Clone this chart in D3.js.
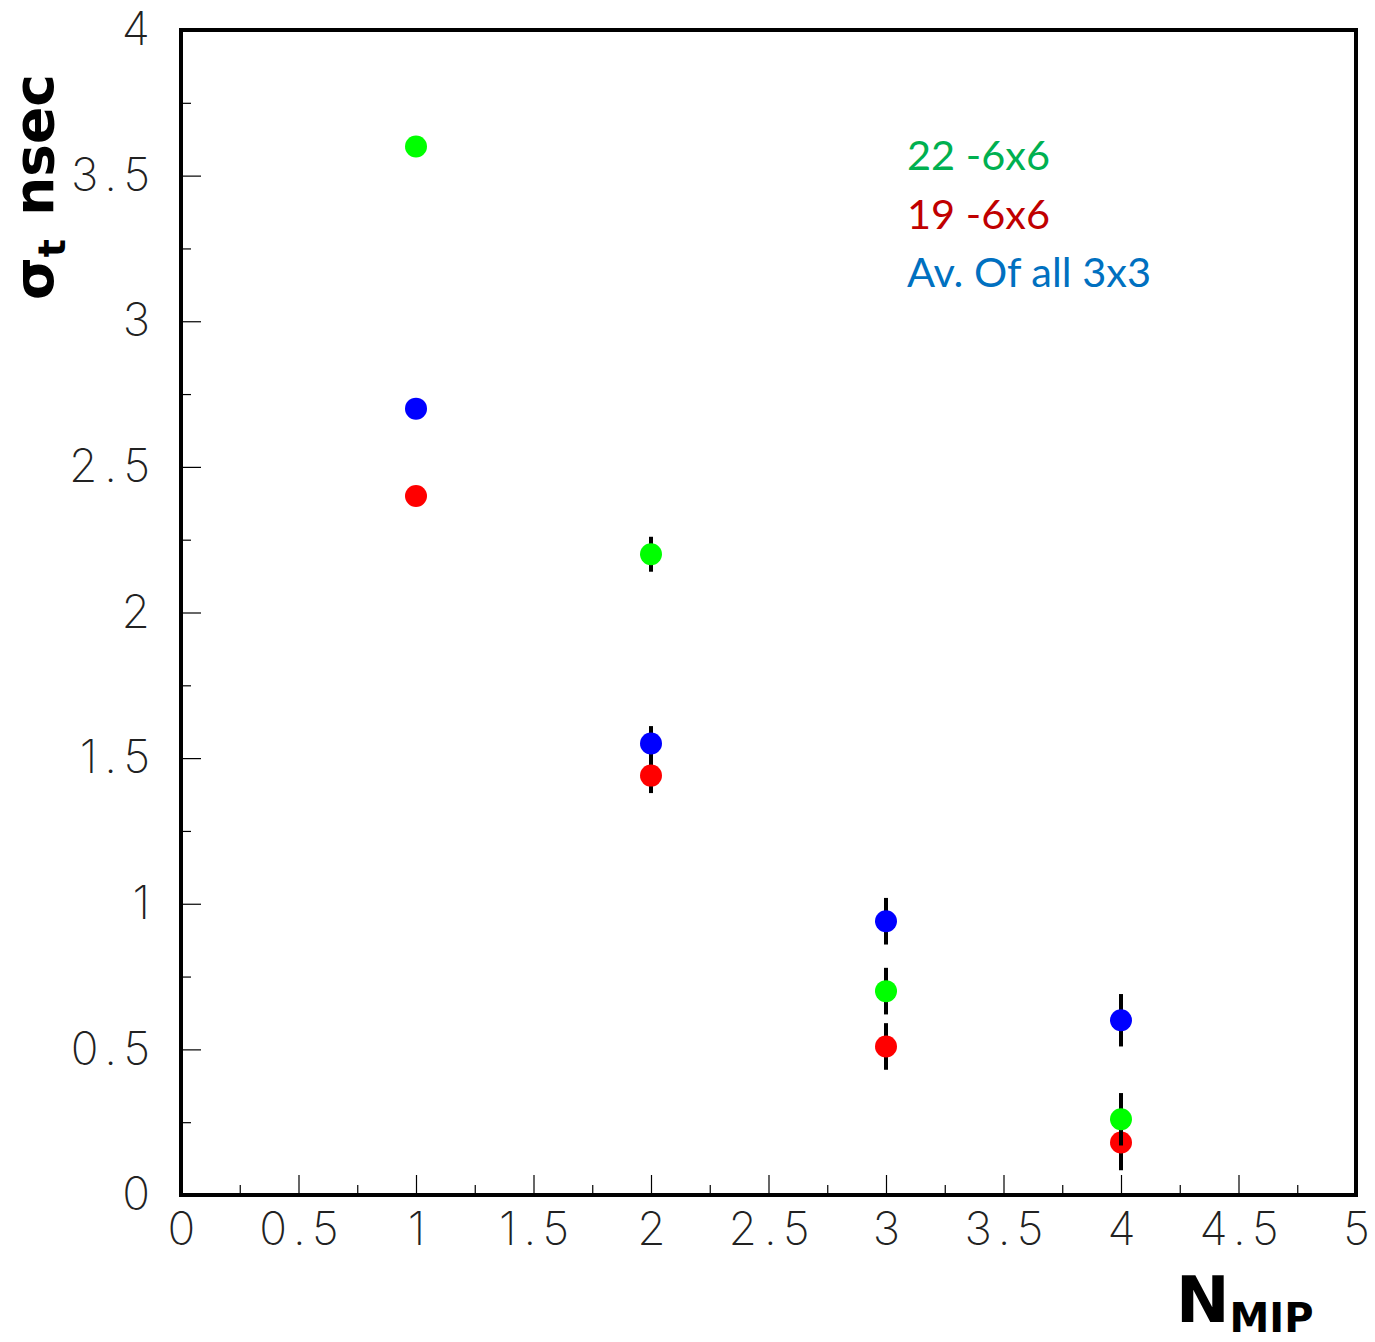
<!DOCTYPE html>
<html>
<head>
<meta charset="utf-8">
<script src="https://cdn.jsdelivr.net/npm/d3@7"></script>
<style>
  html, body { margin: 0; padding: 0; background: #fff; }
  svg { display: block; }
  .tick-label { font-family: "Inter", "Lato", sans-serif; font-weight: 200; fill: #222; }
</style>
</head>
<body>
<script>
// Time resolution vs number of MIPs for three tile configurations
const nMip = [1, 2, 3, 4];
const sigmaGreen = [3.60, 2.20, 0.70, 0.26];
const errGreen   = [0.03, 0.06, 0.08, 0.09];
const sigmaRed   = [2.40, 1.44, 0.51, 0.18];
const errRed     = [0.03, 0.06, 0.08, 0.095];
const sigmaBlue  = [2.70, 1.55, 0.94, 0.60];
const errBlue    = [0.03, 0.06, 0.08, 0.09];

const xTicks = [0, 0.5, 1, 1.5, 2, 2.5, 3, 3.5, 4, 4.5, 5];
const yTicks = [0, 0.5, 1, 1.5, 2, 2.5, 3, 3.5, 4];
const xTickLabels = ["0", "0.5", "1", "1.5", "2", "2.5", "3", "3.5", "4", "4.5", "5"];
const yTickLabels = ["0", "0.5", "1", "1.5", "2", "2.5", "3", "3.5", "4"];

const legendLabels = ["22 -6x6", "19 -6x6", "Av. Of all 3x3"];
const legendColors = ["#00b050", "#c00000", "#0070c0"];

const W = 1375, H = 1342;
const m = { left: 181, right: 1356, top: 30, bottom: 1195 };

const x = d3.scaleLinear().domain([0, 5]).range([m.left, m.right]);
const y = d3.scaleLinear().domain([0, 4]).range([m.bottom, m.top]);

const svg = d3.select("body").append("svg").attr("width", W).attr("height", H);

// Minor ticks (every 0.25)
const minorX = d3.range(0.25, 5, 0.5);
const minorY = d3.range(0.25, 4, 0.5);

// Wide letter spacing for multi-character labels; trailing space is compensated
const spacing = 7;
const sp = t => (t.length > 1 ? spacing : 0);

const axisX = d3.axisBottom(x).tickValues(xTicks).tickSizeInner(-20).tickSizeOuter(0)
  .tickPadding(32).tickFormat((d, i) => xTickLabels[i]);
const gx = svg.append("g").attr("transform", `translate(0,${m.bottom})`).call(axisX);
gx.select(".domain").remove();
gx.selectAll(".tick line").attr("stroke", "#000").attr("stroke-width", 1.2);
gx.selectAll(".tick text").attr("class", "tick-label").attr("font-size", 46)
  .attr("dy", "0.35em").attr("y", 34)
  .attr("dx", function () { return sp(this.textContent) / 2; })
  .attr("letter-spacing", function () { return sp(this.textContent); });

svg.append("g").attr("transform", `translate(0,${m.bottom})`)
  .call(d3.axisBottom(x).tickValues(minorX).tickSizeInner(-10).tickSizeOuter(0).tickFormat(""))
  .call(g => g.select(".domain").remove())
  .selectAll(".tick line").attr("stroke", "#000").attr("stroke-width", 1.2);

const axisY = d3.axisLeft(y).tickValues(yTicks).tickSizeInner(-20).tickSizeOuter(0)
  .tickPadding(30).tickFormat((d, i) => yTickLabels[i]);
const gy = svg.append("g").attr("transform", `translate(${m.left},0)`).call(axisY);
gy.select(".domain").remove();
gy.selectAll(".tick line").attr("stroke", "#000").attr("stroke-width", 1.2);
gy.selectAll(".tick text").attr("class", "tick-label").attr("font-size", 46)
  .attr("x", function () { return -31 + sp(this.textContent); })
  .attr("letter-spacing", function () { return sp(this.textContent); });

svg.append("g").attr("transform", `translate(${m.left},0)`)
  .call(d3.axisLeft(y).tickValues(minorY).tickSizeInner(-10).tickSizeOuter(0).tickFormat(""))
  .call(g => g.select(".domain").remove())
  .selectAll(".tick line").attr("stroke", "#000").attr("stroke-width", 1.2);

// Frame
svg.append("rect")
  .attr("x", m.left).attr("y", m.top)
  .attr("width", m.right - m.left).attr("height", m.bottom - m.top)
  .attr("fill", "none").attr("stroke", "#000").attr("stroke-width", 4);

// Data series: drawn red, green, blue (error bar then marker per series)
const series = [
  { vals: sigmaRed,   errs: errRed,   color: "#ff0000" },
  { vals: sigmaGreen, errs: errGreen, color: "#00ff00" },
  { vals: sigmaBlue,  errs: errBlue,  color: "#0000ff" }
];

series.forEach(s => {
  const g = svg.append("g");
  const pts = nMip.map((n, i) => ({ n, v: s.vals[i], e: s.errs[i] }));
  g.selectAll("line").data(pts).join("line")
    .attr("x1", d => x(d.n)).attr("x2", d => x(d.n))
    .attr("y1", d => y(d.v + d.e)).attr("y2", d => y(d.v - d.e))
    .attr("stroke", "#000").attr("stroke-width", 4);
  g.selectAll("circle").data(pts).join("circle")
    .attr("cx", d => x(d.n)).attr("cy", d => y(d.v)).attr("r", 11)
    .attr("fill", s.color);
});

// Legend text
svg.append("g").selectAll("text").data(legendLabels).join("text")
  .attr("x", 907).attr("y", (d, i) => 170 + i * 58.5)
  .attr("fill", (d, i) => legendColors[i])
  .attr("font-family", "Lato, 'Open Sans', sans-serif")
  .attr("font-size", 41.5)
  .text(d => d);

// Axis titles
const yTitle = svg.append("text")
  .attr("transform", "translate(53,300) rotate(-90)")
  .attr("font-family", "'DejaVu Sans', sans-serif")
  .attr("font-weight", "bold").attr("font-size", 55).attr("fill", "#000");
yTitle.append("tspan").text("σ");
yTitle.append("tspan").attr("font-size", 38).attr("dy", 12).text("t");
yTitle.append("tspan").attr("dy", -12).attr("dx", 4).text(" nsec");

const xTitle = svg.append("text")
  .attr("x", 1176).attr("y", 1322)
  .attr("font-family", "'DejaVu Sans', sans-serif")
  .attr("font-weight", "bold").attr("font-size", 64).attr("fill", "#000");
xTitle.append("tspan").text("N");
xTitle.append("tspan").attr("font-size", 40).attr("dy", 10).text("MIP");
</script>
</body>
</html>
